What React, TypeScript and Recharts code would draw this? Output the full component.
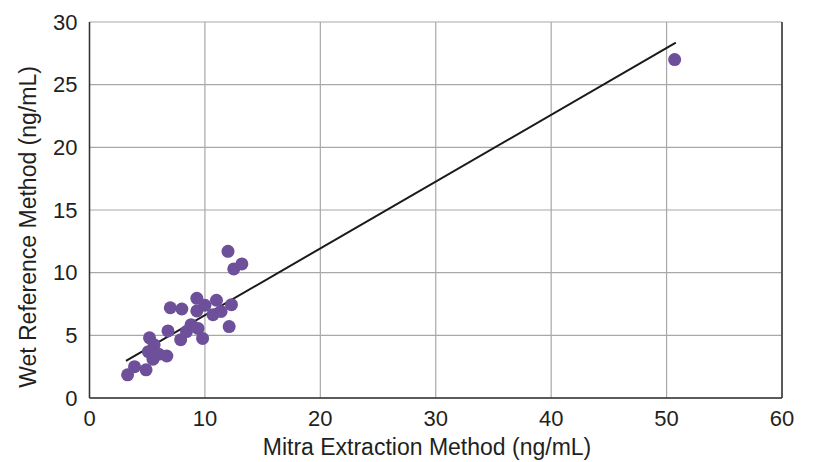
import React from "react";
import {
  ScatterChart,
  Scatter,
  XAxis,
  YAxis,
  CartesianGrid,
  ReferenceLine,
} from "recharts";

const MITRA = [
  3.3, 3.9, 4.9, 5.1, 5.2, 5.6, 5.5, 6.0, 6.7, 6.8, 7.0, 8.0, 7.9, 8.4, 8.8,
  9.4, 9.8, 9.3, 9.3, 10.0, 10.7, 11.0, 11.4, 12.1, 12.3, 12.0, 12.5, 13.2, 50.7,
];
const WET = [
  1.85, 2.5, 2.25, 3.7, 4.8, 4.25, 3.1, 3.5, 3.35, 5.35, 7.2, 7.1, 4.65, 5.3,
  5.85, 5.55, 4.75, 7.95, 6.95, 7.4, 6.65, 7.8, 6.9, 5.7, 7.45, 11.7, 10.3, 10.7, 27.0,
];
const X_TICKS = [0, 10, 20, 30, 40, 50, 60];
const Y_TICKS = [0, 5, 10, 15, 20, 25, 30];
// fitted trend line end points (x, y)
const FIT_START = [3.16, 2.96];
const FIT_END = [50.8, 28.35];

const PURPLE = "#6d4f9a";
const AXIS_DARK = "#333";
const GRID = "#a8a8a8";
const TEXT = "#231f20";
const FONT = "'Liberation Sans', Arial, sans-serif";

const points = MITRA.map((x, i) => ({ x, y: WET[i] }));

export default function App() {
  return (
    <div style={{ position: "absolute", left: 0, top: 0, width: 814, height: 462, background: "#fff", fontFamily: FONT }}>
      <ScatterChart width={814} height={462} margin={{ top: 22, right: 32, bottom: 0, left: 0 }}>
        <CartesianGrid stroke={GRID} strokeWidth={1.2} />
        <XAxis
          type="number"
          dataKey="x"
          domain={[0, 60]}
          ticks={X_TICKS}
          height={64}
          tickLine={false}
          axisLine={{ stroke: AXIS_DARK, strokeWidth: 1.5 }}
          tick={{ fill: TEXT, fontSize: 22, fontFamily: FONT }}
          tickMargin={6}
          label={{
            content: () => (
              <text x={427} y={455} textAnchor="middle" fill={TEXT} fontSize={23} fontFamily={FONT}>
                Mitra Extraction Method (ng/mL)
              </text>
            ),
          }}
        />
        <YAxis
          type="number"
          dataKey="y"
          domain={[0, 30]}
          ticks={Y_TICKS}
          width={89.5}
          tickLine={false}
          axisLine={{ stroke: AXIS_DARK, strokeWidth: 1.5 }}
          tick={{ fill: TEXT, fontSize: 22, fontFamily: FONT }}
          tickMargin={6}
          label={{
            content: () => (
              <text
                x={28}
                y={227}
                transform="rotate(-90, 28, 227)"
                textAnchor="middle"
                dominantBaseline="central"
                fill={TEXT}
                fontSize={23}
                fontFamily={FONT}
              >
                Wet Reference Method (ng/mL)
              </text>
            ),
          }}
        />
        <ReferenceLine x={60} stroke={AXIS_DARK} strokeWidth={1.5} />
        <ReferenceLine
          segment={[
            { x: FIT_START[0], y: FIT_START[1] },
            { x: FIT_END[0], y: FIT_END[1] },
          ]}
          stroke="#1a1a1a"
          strokeWidth={2}
          ifOverflow="visible"
        />
        <Scatter
          data={points}
          fill={PURPLE}
          isAnimationActive={false}
          shape={(p: any) => <circle cx={p.cx} cy={p.cy} r={6.5} fill={PURPLE} />}
        />
      </ScatterChart>
    </div>
  );
}
